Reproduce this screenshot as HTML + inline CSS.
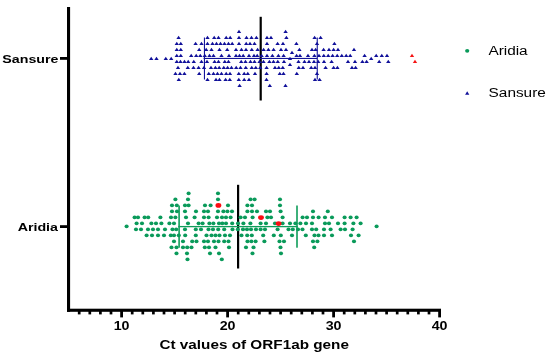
<!DOCTYPE html>
<html><head><meta charset="utf-8"><title>Ct values of ORF1ab gene</title>
<style>
html,body{margin:0;padding:0;background:#fff;}
body{width:550px;height:356px;overflow:hidden;}
svg{display:block;}
</style></head>
<body>
<svg width="550" height="356" viewBox="0 0 550 356">
<rect width="550" height="356" fill="#fff"/>
<g><rect x="259.6" y="16.8" width="2.2" height="83.7" fill="#000"/><rect x="237" y="184.8" width="2.2" height="83.7" fill="#000"/><rect x="203.6" y="57.9" width="113.6" height="1.1" fill="#14149a"/><rect x="203.9" y="37.5" width="1.1" height="42" fill="#14149a"/><rect x="316.7" y="37.5" width="1.1" height="42" fill="#14149a"/><rect x="178.3" y="225.95" width="119.4" height="1.3" fill="#0f9d5a"/><rect x="178.3" y="205.5" width="1.6" height="42.2" fill="#0f9d5a"/><rect x="296.2" y="205.5" width="1.6" height="42.2" fill="#0f9d5a"/></g>
<g><path d="M236.8 33.0H241.2L239.0 29.8Z" fill="#10109a"/><path d="M283.4 33.0H287.8L285.6 29.8Z" fill="#10109a"/><path d="M176.4 39.0H180.8L178.6 35.8Z" fill="#10109a"/><path d="M205.3 39.0H209.7L207.5 35.8Z" fill="#10109a"/><path d="M212.0 39.0H216.4L214.2 35.8Z" fill="#10109a"/><path d="M216.3 39.0H220.7L218.5 35.8Z" fill="#10109a"/><path d="M224.0 39.0H228.4L226.2 35.8Z" fill="#10109a"/><path d="M228.0 39.0H232.4L230.2 35.8Z" fill="#10109a"/><path d="M236.8 39.0H241.2L239.0 35.8Z" fill="#10109a"/><path d="M244.3 39.0H248.7L246.5 35.8Z" fill="#10109a"/><path d="M249.3 39.0H253.7L251.5 35.8Z" fill="#10109a"/><path d="M254.2 39.0H258.6L256.4 35.8Z" fill="#10109a"/><path d="M264.8 39.0H269.2L267.0 35.8Z" fill="#10109a"/><path d="M268.8 39.0H273.2L271.0 35.8Z" fill="#10109a"/><path d="M284.2 39.0H288.6L286.4 35.8Z" fill="#10109a"/><path d="M312.4 39.0H316.8L314.6 35.8Z" fill="#10109a"/><path d="M318.4 39.0H322.8L320.6 35.8Z" fill="#10109a"/><path d="M174.6 45.0H179.0L176.8 41.8Z" fill="#10109a"/><path d="M178.6 45.0H183.0L180.8 41.8Z" fill="#10109a"/><path d="M193.4 45.0H197.8L195.6 41.8Z" fill="#10109a"/><path d="M199.3 45.0H203.7L201.5 41.8Z" fill="#10109a"/><path d="M205.3 45.0H209.7L207.5 41.8Z" fill="#10109a"/><path d="M210.3 45.0H214.7L212.5 41.8Z" fill="#10109a"/><path d="M214.3 45.0H218.7L216.5 41.8Z" fill="#10109a"/><path d="M218.3 45.0H222.7L220.5 41.8Z" fill="#10109a"/><path d="M222.3 45.0H226.7L224.5 41.8Z" fill="#10109a"/><path d="M226.3 45.0H230.7L228.5 41.8Z" fill="#10109a"/><path d="M230.0 45.0H234.4L232.2 41.8Z" fill="#10109a"/><path d="M236.8 45.0H241.2L239.0 41.8Z" fill="#10109a"/><path d="M244.0 45.0H248.4L246.2 41.8Z" fill="#10109a"/><path d="M247.8 45.0H252.2L250.0 41.8Z" fill="#10109a"/><path d="M252.3 45.0H256.7L254.5 41.8Z" fill="#10109a"/><path d="M264.8 45.0H269.2L267.0 41.8Z" fill="#10109a"/><path d="M275.4 45.0H279.8L277.6 41.8Z" fill="#10109a"/><path d="M280.8 45.0H285.2L283.0 41.8Z" fill="#10109a"/><path d="M294.2 45.0H298.6L296.4 41.8Z" fill="#10109a"/><path d="M314.8 45.0H319.2L317.0 41.8Z" fill="#10109a"/><path d="M332.2 45.0H336.6L334.4 41.8Z" fill="#10109a"/><path d="M174.6 51.0H179.0L176.8 47.8Z" fill="#10109a"/><path d="M178.6 51.0H183.0L180.8 47.8Z" fill="#10109a"/><path d="M197.0 51.0H201.4L199.2 47.8Z" fill="#10109a"/><path d="M204.0 51.0H208.4L206.2 47.8Z" fill="#10109a"/><path d="M209.3 51.0H213.7L211.5 47.8Z" fill="#10109a"/><path d="M217.3 51.0H221.7L219.5 47.8Z" fill="#10109a"/><path d="M225.0 51.0H229.4L227.2 47.8Z" fill="#10109a"/><path d="M233.8 51.0H238.2L236.0 47.8Z" fill="#10109a"/><path d="M239.3 51.0H243.7L241.5 47.8Z" fill="#10109a"/><path d="M243.8 51.0H248.2L246.0 47.8Z" fill="#10109a"/><path d="M249.6 51.0H254.0L251.8 47.8Z" fill="#10109a"/><path d="M255.4 51.0H259.8L257.6 47.8Z" fill="#10109a"/><path d="M261.4 51.0H265.8L263.6 47.8Z" fill="#10109a"/><path d="M266.2 51.0H270.6L268.4 47.8Z" fill="#10109a"/><path d="M271.4 51.0H275.8L273.6 47.8Z" fill="#10109a"/><path d="M278.8 51.0H283.2L281.0 47.8Z" fill="#10109a"/><path d="M283.8 51.0H288.2L286.0 47.8Z" fill="#10109a"/><path d="M297.2 51.0H301.6L299.4 47.8Z" fill="#10109a"/><path d="M309.8 51.0H314.2L312.0 47.8Z" fill="#10109a"/><path d="M313.4 51.0H317.8L315.6 47.8Z" fill="#10109a"/><path d="M321.4 51.0H325.8L323.6 47.8Z" fill="#10109a"/><path d="M326.8 51.0H331.2L329.0 47.8Z" fill="#10109a"/><path d="M331.4 51.0H335.8L333.6 47.8Z" fill="#10109a"/><path d="M335.8 51.0H340.2L338.0 47.8Z" fill="#10109a"/><path d="M351.8 51.0H356.2L354.0 47.8Z" fill="#10109a"/><path d="M289.8 54.0H294.2L292.0 50.8Z" fill="#10109a"/><path d="M174.6 57.0H179.0L176.8 53.8Z" fill="#10109a"/><path d="M178.6 57.0H183.0L180.8 53.8Z" fill="#10109a"/><path d="M189.0 57.0H193.4L191.2 53.8Z" fill="#10109a"/><path d="M194.0 57.0H198.4L196.2 53.8Z" fill="#10109a"/><path d="M198.1 57.0H202.5L200.3 53.8Z" fill="#10109a"/><path d="M202.6 57.0H207.0L204.8 53.8Z" fill="#10109a"/><path d="M207.3 57.0H211.7L209.5 53.8Z" fill="#10109a"/><path d="M211.3 57.0H215.7L213.5 53.8Z" fill="#10109a"/><path d="M219.3 57.0H223.7L221.5 53.8Z" fill="#10109a"/><path d="M226.8 57.0H231.2L229.0 53.8Z" fill="#10109a"/><path d="M233.8 57.0H238.2L236.0 53.8Z" fill="#10109a"/><path d="M237.3 57.0H241.7L239.5 53.8Z" fill="#10109a"/><path d="M241.0 57.0H245.4L243.2 53.8Z" fill="#10109a"/><path d="M246.8 57.0H251.2L249.0 53.8Z" fill="#10109a"/><path d="M251.8 57.0H256.2L254.0 53.8Z" fill="#10109a"/><path d="M255.0 57.0H259.4L257.2 53.8Z" fill="#10109a"/><path d="M259.4 57.0H263.8L261.6 53.8Z" fill="#10109a"/><path d="M264.8 57.0H269.2L267.0 53.8Z" fill="#10109a"/><path d="M270.2 57.0H274.6L272.4 53.8Z" fill="#10109a"/><path d="M276.2 57.0H280.6L278.4 53.8Z" fill="#10109a"/><path d="M281.4 57.0H285.8L283.6 53.8Z" fill="#10109a"/><path d="M294.4 57.0H298.8L296.6 53.8Z" fill="#10109a"/><path d="M297.8 57.0H302.2L300.0 53.8Z" fill="#10109a"/><path d="M305.8 57.0H310.2L308.0 53.8Z" fill="#10109a"/><path d="M312.2 57.0H316.6L314.4 53.8Z" fill="#10109a"/><path d="M316.8 57.0H321.2L319.0 53.8Z" fill="#10109a"/><path d="M321.6 57.0H326.0L323.8 53.8Z" fill="#10109a"/><path d="M326.0 57.0H330.4L328.2 53.8Z" fill="#10109a"/><path d="M330.4 57.0H334.8L332.6 53.8Z" fill="#10109a"/><path d="M335.0 57.0H339.4L337.2 53.8Z" fill="#10109a"/><path d="M339.6 57.0H344.0L341.8 53.8Z" fill="#10109a"/><path d="M344.0 57.0H348.4L346.2 53.8Z" fill="#10109a"/><path d="M348.0 57.0H352.4L350.2 53.8Z" fill="#10109a"/><path d="M362.4 57.0H366.8L364.6 53.8Z" fill="#10109a"/><path d="M374.0 57.0H378.4L376.2 53.8Z" fill="#10109a"/><path d="M379.6 57.0H384.0L381.8 53.8Z" fill="#10109a"/><path d="M384.8 57.0H389.2L387.0 53.8Z" fill="#10109a"/><path d="M149.0 60.0H153.4L151.2 56.8Z" fill="#10109a"/><path d="M154.3 60.0H158.7L156.5 56.8Z" fill="#10109a"/><path d="M163.6 60.0H168.0L165.8 56.8Z" fill="#10109a"/><path d="M169.0 60.0H173.4L171.2 56.8Z" fill="#10109a"/><path d="M287.8 60.0H292.2L290.0 56.8Z" fill="#10109a"/><path d="M369.0 60.0H373.4L371.2 56.8Z" fill="#10109a"/><path d="M174.6 63.0H179.0L176.8 59.8Z" fill="#10109a"/><path d="M178.3 63.0H182.7L180.5 59.8Z" fill="#10109a"/><path d="M182.3 63.0H186.7L184.5 59.8Z" fill="#10109a"/><path d="M186.0 63.0H190.4L188.2 59.8Z" fill="#10109a"/><path d="M191.6 63.0H196.0L193.8 59.8Z" fill="#10109a"/><path d="M199.3 63.0H203.7L201.5 59.8Z" fill="#10109a"/><path d="M204.8 63.0H209.2L207.0 59.8Z" fill="#10109a"/><path d="M212.4 63.0H216.8L214.6 59.8Z" fill="#10109a"/><path d="M216.3 63.0H220.7L218.5 59.8Z" fill="#10109a"/><path d="M222.6 63.0H227.0L224.8 59.8Z" fill="#10109a"/><path d="M226.3 63.0H230.7L228.5 59.8Z" fill="#10109a"/><path d="M239.0 63.0H243.4L241.2 59.8Z" fill="#10109a"/><path d="M243.3 63.0H247.7L245.5 59.8Z" fill="#10109a"/><path d="M248.3 63.0H252.7L250.5 59.8Z" fill="#10109a"/><path d="M252.3 63.0H256.7L254.5 59.8Z" fill="#10109a"/><path d="M257.3 63.0H261.7L259.5 59.8Z" fill="#10109a"/><path d="M261.3 63.0H265.7L263.5 59.8Z" fill="#10109a"/><path d="M267.2 63.0H271.6L269.4 59.8Z" fill="#10109a"/><path d="M271.3 63.0H275.7L273.5 59.8Z" fill="#10109a"/><path d="M275.6 63.0H280.0L277.8 59.8Z" fill="#10109a"/><path d="M281.8 63.0H286.2L284.0 59.8Z" fill="#10109a"/><path d="M296.3 63.0H300.7L298.5 59.8Z" fill="#10109a"/><path d="M302.3 63.0H306.7L304.5 59.8Z" fill="#10109a"/><path d="M306.8 63.0H311.2L309.0 59.8Z" fill="#10109a"/><path d="M311.8 63.0H316.2L314.0 59.8Z" fill="#10109a"/><path d="M316.0 63.0H320.4L318.2 59.8Z" fill="#10109a"/><path d="M321.8 63.0H326.2L324.0 59.8Z" fill="#10109a"/><path d="M329.4 63.0H333.8L331.6 59.8Z" fill="#10109a"/><path d="M345.8 63.0H350.2L348.0 59.8Z" fill="#10109a"/><path d="M352.8 63.0H357.2L355.0 59.8Z" fill="#10109a"/><path d="M360.2 63.0H364.6L362.4 59.8Z" fill="#10109a"/><path d="M364.4 63.0H368.8L366.6 59.8Z" fill="#10109a"/><path d="M377.0 63.0H381.4L379.2 59.8Z" fill="#10109a"/><path d="M386.1 63.0H390.5L388.3 59.8Z" fill="#10109a"/><path d="M287.8 66.1H292.2L290.0 62.8Z" fill="#10109a"/><path d="M175.8 69.1H180.2L178.0 65.8Z" fill="#10109a"/><path d="M185.6 69.1H190.0L187.8 65.8Z" fill="#10109a"/><path d="M191.3 69.1H195.7L193.5 65.8Z" fill="#10109a"/><path d="M196.4 69.1H200.8L198.6 65.8Z" fill="#10109a"/><path d="M201.8 69.1H206.2L204.0 65.8Z" fill="#10109a"/><path d="M208.8 69.1H213.2L211.0 65.8Z" fill="#10109a"/><path d="M213.2 69.1H217.6L215.4 65.8Z" fill="#10109a"/><path d="M217.0 69.1H221.4L219.2 65.8Z" fill="#10109a"/><path d="M221.6 69.1H226.0L223.8 65.8Z" fill="#10109a"/><path d="M225.4 69.1H229.8L227.6 65.8Z" fill="#10109a"/><path d="M229.3 69.1H233.7L231.5 65.8Z" fill="#10109a"/><path d="M234.0 69.1H238.4L236.2 65.8Z" fill="#10109a"/><path d="M238.3 69.1H242.7L240.5 65.8Z" fill="#10109a"/><path d="M243.6 69.1H248.0L245.8 65.8Z" fill="#10109a"/><path d="M249.6 69.1H254.0L251.8 65.8Z" fill="#10109a"/><path d="M253.6 69.1H258.0L255.8 65.8Z" fill="#10109a"/><path d="M258.0 69.1H262.4L260.2 65.8Z" fill="#10109a"/><path d="M264.4 69.1H268.8L266.6 65.8Z" fill="#10109a"/><path d="M272.8 69.1H277.2L275.0 65.8Z" fill="#10109a"/><path d="M276.6 69.1H281.0L278.8 65.8Z" fill="#10109a"/><path d="M280.6 69.1H285.0L282.8 65.8Z" fill="#10109a"/><path d="M296.6 69.1H301.0L298.8 65.8Z" fill="#10109a"/><path d="M300.8 69.1H305.2L303.0 65.8Z" fill="#10109a"/><path d="M309.0 69.1H313.4L311.2 65.8Z" fill="#10109a"/><path d="M312.8 69.1H317.2L315.0 65.8Z" fill="#10109a"/><path d="M323.4 69.1H327.8L325.6 65.8Z" fill="#10109a"/><path d="M331.4 69.1H335.8L333.6 65.8Z" fill="#10109a"/><path d="M335.2 69.1H339.6L337.4 65.8Z" fill="#10109a"/><path d="M349.8 69.1H354.2L352.0 65.8Z" fill="#10109a"/><path d="M353.4 69.1H357.8L355.6 65.8Z" fill="#10109a"/><path d="M173.3 75.1H177.7L175.5 71.8Z" fill="#10109a"/><path d="M177.8 75.1H182.2L180.0 71.8Z" fill="#10109a"/><path d="M182.2 75.1H186.6L184.4 71.8Z" fill="#10109a"/><path d="M197.0 75.1H201.4L199.2 71.8Z" fill="#10109a"/><path d="M206.6 75.1H211.0L208.8 71.8Z" fill="#10109a"/><path d="M211.3 75.1H215.7L213.5 71.8Z" fill="#10109a"/><path d="M215.3 75.1H219.7L217.5 71.8Z" fill="#10109a"/><path d="M219.3 75.1H223.7L221.5 71.8Z" fill="#10109a"/><path d="M224.0 75.1H228.4L226.2 71.8Z" fill="#10109a"/><path d="M227.8 75.1H232.2L230.0 71.8Z" fill="#10109a"/><path d="M236.6 75.1H241.0L238.8 71.8Z" fill="#10109a"/><path d="M242.0 75.1H246.4L244.2 71.8Z" fill="#10109a"/><path d="M245.6 75.1H250.0L247.8 71.8Z" fill="#10109a"/><path d="M252.8 75.1H257.2L255.0 71.8Z" fill="#10109a"/><path d="M264.4 75.1H268.8L266.6 71.8Z" fill="#10109a"/><path d="M277.6 75.1H282.0L279.8 71.8Z" fill="#10109a"/><path d="M281.3 75.1H285.7L283.5 71.8Z" fill="#10109a"/><path d="M294.6 75.1H299.0L296.8 71.8Z" fill="#10109a"/><path d="M314.8 75.1H319.2L317.0 71.8Z" fill="#10109a"/><path d="M176.6 81.1H181.0L178.8 77.8Z" fill="#10109a"/><path d="M205.3 81.1H209.7L207.5 77.8Z" fill="#10109a"/><path d="M213.8 81.1H218.2L216.0 77.8Z" fill="#10109a"/><path d="M217.3 81.1H221.7L219.5 77.8Z" fill="#10109a"/><path d="M223.4 81.1H227.8L225.6 77.8Z" fill="#10109a"/><path d="M227.6 81.1H232.0L229.8 77.8Z" fill="#10109a"/><path d="M236.6 81.1H241.0L238.8 77.8Z" fill="#10109a"/><path d="M242.0 81.1H246.4L244.2 77.8Z" fill="#10109a"/><path d="M246.8 81.1H251.2L249.0 77.8Z" fill="#10109a"/><path d="M264.3 81.1H268.7L266.5 77.8Z" fill="#10109a"/><path d="M312.8 81.1H317.2L315.0 77.8Z" fill="#10109a"/><path d="M317.4 81.1H321.8L319.6 77.8Z" fill="#10109a"/><path d="M237.4 87.1H241.8L239.6 83.8Z" fill="#10109a"/><path d="M267.6 87.1H272.0L269.8 83.8Z" fill="#10109a"/><path d="M283.3 87.1H287.7L285.5 83.8Z" fill="#10109a"/></g><g><path d="M409.8 57.0H414.2L412.0 53.8Z" fill="#f51414"/><path d="M412.8 63.0H417.2L415.0 59.8Z" fill="#f51414"/></g><g><ellipse cx="188.6" cy="193.4" rx="2.08" ry="1.78" fill="#0a9a5a"/><ellipse cx="218.0" cy="193.4" rx="2.08" ry="1.78" fill="#0a9a5a"/><ellipse cx="175.4" cy="199.4" rx="2.08" ry="1.78" fill="#0a9a5a"/><ellipse cx="188.0" cy="199.4" rx="2.08" ry="1.78" fill="#0a9a5a"/><ellipse cx="218.0" cy="199.4" rx="2.08" ry="1.78" fill="#0a9a5a"/><ellipse cx="250.6" cy="199.4" rx="2.08" ry="1.78" fill="#0a9a5a"/><ellipse cx="254.6" cy="199.4" rx="2.08" ry="1.78" fill="#0a9a5a"/><ellipse cx="280.0" cy="199.4" rx="2.08" ry="1.78" fill="#0a9a5a"/><ellipse cx="172.0" cy="205.4" rx="2.08" ry="1.78" fill="#0a9a5a"/><ellipse cx="176.8" cy="205.4" rx="2.08" ry="1.78" fill="#0a9a5a"/><ellipse cx="185.0" cy="205.4" rx="2.08" ry="1.78" fill="#0a9a5a"/><ellipse cx="188.6" cy="205.4" rx="2.08" ry="1.78" fill="#0a9a5a"/><ellipse cx="205.0" cy="205.4" rx="2.08" ry="1.78" fill="#0a9a5a"/><ellipse cx="210.6" cy="205.4" rx="2.08" ry="1.78" fill="#0a9a5a"/><ellipse cx="228.0" cy="205.4" rx="2.08" ry="1.78" fill="#0a9a5a"/><ellipse cx="247.4" cy="205.4" rx="2.08" ry="1.78" fill="#0a9a5a"/><ellipse cx="252.0" cy="205.4" rx="2.08" ry="1.78" fill="#0a9a5a"/><ellipse cx="280.0" cy="205.4" rx="2.08" ry="1.78" fill="#0a9a5a"/><ellipse cx="172.0" cy="211.4" rx="2.08" ry="1.78" fill="#0a9a5a"/><ellipse cx="177.0" cy="211.4" rx="2.08" ry="1.78" fill="#0a9a5a"/><ellipse cx="185.0" cy="211.4" rx="2.08" ry="1.78" fill="#0a9a5a"/><ellipse cx="196.0" cy="211.4" rx="2.08" ry="1.78" fill="#0a9a5a"/><ellipse cx="204.0" cy="211.4" rx="2.08" ry="1.78" fill="#0a9a5a"/><ellipse cx="208.0" cy="211.4" rx="2.08" ry="1.78" fill="#0a9a5a"/><ellipse cx="218.0" cy="211.4" rx="2.08" ry="1.78" fill="#0a9a5a"/><ellipse cx="223.4" cy="211.4" rx="2.08" ry="1.78" fill="#0a9a5a"/><ellipse cx="227.4" cy="211.4" rx="2.08" ry="1.78" fill="#0a9a5a"/><ellipse cx="232.0" cy="211.4" rx="2.08" ry="1.78" fill="#0a9a5a"/><ellipse cx="247.4" cy="211.4" rx="2.08" ry="1.78" fill="#0a9a5a"/><ellipse cx="252.0" cy="211.4" rx="2.08" ry="1.78" fill="#0a9a5a"/><ellipse cx="257.0" cy="211.4" rx="2.08" ry="1.78" fill="#0a9a5a"/><ellipse cx="266.0" cy="211.4" rx="2.08" ry="1.78" fill="#0a9a5a"/><ellipse cx="270.0" cy="211.4" rx="2.08" ry="1.78" fill="#0a9a5a"/><ellipse cx="280.6" cy="211.4" rx="2.08" ry="1.78" fill="#0a9a5a"/><ellipse cx="313.0" cy="211.4" rx="2.08" ry="1.78" fill="#0a9a5a"/><ellipse cx="327.8" cy="211.4" rx="2.08" ry="1.78" fill="#0a9a5a"/><ellipse cx="134.6" cy="217.4" rx="2.08" ry="1.78" fill="#0a9a5a"/><ellipse cx="138.0" cy="217.4" rx="2.08" ry="1.78" fill="#0a9a5a"/><ellipse cx="144.6" cy="217.4" rx="2.08" ry="1.78" fill="#0a9a5a"/><ellipse cx="148.2" cy="217.4" rx="2.08" ry="1.78" fill="#0a9a5a"/><ellipse cx="160.4" cy="217.4" rx="2.08" ry="1.78" fill="#0a9a5a"/><ellipse cx="171.0" cy="217.4" rx="2.08" ry="1.78" fill="#0a9a5a"/><ellipse cx="175.4" cy="217.4" rx="2.08" ry="1.78" fill="#0a9a5a"/><ellipse cx="186.0" cy="217.4" rx="2.08" ry="1.78" fill="#0a9a5a"/><ellipse cx="194.6" cy="217.4" rx="2.08" ry="1.78" fill="#0a9a5a"/><ellipse cx="204.0" cy="217.4" rx="2.08" ry="1.78" fill="#0a9a5a"/><ellipse cx="208.6" cy="217.4" rx="2.08" ry="1.78" fill="#0a9a5a"/><ellipse cx="217.0" cy="217.4" rx="2.08" ry="1.78" fill="#0a9a5a"/><ellipse cx="222.0" cy="217.4" rx="2.08" ry="1.78" fill="#0a9a5a"/><ellipse cx="226.0" cy="217.4" rx="2.08" ry="1.78" fill="#0a9a5a"/><ellipse cx="230.6" cy="217.4" rx="2.08" ry="1.78" fill="#0a9a5a"/><ellipse cx="240.6" cy="217.4" rx="2.08" ry="1.78" fill="#0a9a5a"/><ellipse cx="245.0" cy="217.4" rx="2.08" ry="1.78" fill="#0a9a5a"/><ellipse cx="252.6" cy="217.4" rx="2.08" ry="1.78" fill="#0a9a5a"/><ellipse cx="267.4" cy="217.4" rx="2.08" ry="1.78" fill="#0a9a5a"/><ellipse cx="271.0" cy="217.4" rx="2.08" ry="1.78" fill="#0a9a5a"/><ellipse cx="282.6" cy="217.4" rx="2.08" ry="1.78" fill="#0a9a5a"/><ellipse cx="302.6" cy="217.4" rx="2.08" ry="1.78" fill="#0a9a5a"/><ellipse cx="307.0" cy="217.4" rx="2.08" ry="1.78" fill="#0a9a5a"/><ellipse cx="313.0" cy="217.4" rx="2.08" ry="1.78" fill="#0a9a5a"/><ellipse cx="318.6" cy="217.4" rx="2.08" ry="1.78" fill="#0a9a5a"/><ellipse cx="325.0" cy="217.4" rx="2.08" ry="1.78" fill="#0a9a5a"/><ellipse cx="332.0" cy="217.4" rx="2.08" ry="1.78" fill="#0a9a5a"/><ellipse cx="344.6" cy="217.4" rx="2.08" ry="1.78" fill="#0a9a5a"/><ellipse cx="350.6" cy="217.4" rx="2.08" ry="1.78" fill="#0a9a5a"/><ellipse cx="356.6" cy="217.4" rx="2.08" ry="1.78" fill="#0a9a5a"/><ellipse cx="136.6" cy="223.4" rx="2.08" ry="1.78" fill="#0a9a5a"/><ellipse cx="142.0" cy="223.4" rx="2.08" ry="1.78" fill="#0a9a5a"/><ellipse cx="151.4" cy="223.4" rx="2.08" ry="1.78" fill="#0a9a5a"/><ellipse cx="156.0" cy="223.4" rx="2.08" ry="1.78" fill="#0a9a5a"/><ellipse cx="161.4" cy="223.4" rx="2.08" ry="1.78" fill="#0a9a5a"/><ellipse cx="169.4" cy="223.4" rx="2.08" ry="1.78" fill="#0a9a5a"/><ellipse cx="174.0" cy="223.4" rx="2.08" ry="1.78" fill="#0a9a5a"/><ellipse cx="188.0" cy="223.4" rx="2.08" ry="1.78" fill="#0a9a5a"/><ellipse cx="198.6" cy="223.4" rx="2.08" ry="1.78" fill="#0a9a5a"/><ellipse cx="202.6" cy="223.4" rx="2.08" ry="1.78" fill="#0a9a5a"/><ellipse cx="209.4" cy="223.4" rx="2.08" ry="1.78" fill="#0a9a5a"/><ellipse cx="213.4" cy="223.4" rx="2.08" ry="1.78" fill="#0a9a5a"/><ellipse cx="219.0" cy="223.4" rx="2.08" ry="1.78" fill="#0a9a5a"/><ellipse cx="222.3" cy="223.4" rx="2.08" ry="1.78" fill="#0a9a5a"/><ellipse cx="226.0" cy="223.4" rx="2.08" ry="1.78" fill="#0a9a5a"/><ellipse cx="232.2" cy="223.4" rx="2.08" ry="1.78" fill="#0a9a5a"/><ellipse cx="238.0" cy="223.4" rx="2.08" ry="1.78" fill="#0a9a5a"/><ellipse cx="243.4" cy="223.4" rx="2.08" ry="1.78" fill="#0a9a5a"/><ellipse cx="250.4" cy="223.4" rx="2.08" ry="1.78" fill="#0a9a5a"/><ellipse cx="260.6" cy="223.4" rx="2.08" ry="1.78" fill="#0a9a5a"/><ellipse cx="266.0" cy="223.4" rx="2.08" ry="1.78" fill="#0a9a5a"/><ellipse cx="275.0" cy="223.4" rx="2.08" ry="1.78" fill="#0a9a5a"/><ellipse cx="282.6" cy="223.4" rx="2.08" ry="1.78" fill="#0a9a5a"/><ellipse cx="290.0" cy="223.4" rx="2.08" ry="1.78" fill="#0a9a5a"/><ellipse cx="295.4" cy="223.4" rx="2.08" ry="1.78" fill="#0a9a5a"/><ellipse cx="300.4" cy="223.4" rx="2.08" ry="1.78" fill="#0a9a5a"/><ellipse cx="306.0" cy="223.4" rx="2.08" ry="1.78" fill="#0a9a5a"/><ellipse cx="312.0" cy="223.4" rx="2.08" ry="1.78" fill="#0a9a5a"/><ellipse cx="325.0" cy="223.4" rx="2.08" ry="1.78" fill="#0a9a5a"/><ellipse cx="329.0" cy="223.4" rx="2.08" ry="1.78" fill="#0a9a5a"/><ellipse cx="338.0" cy="223.4" rx="2.08" ry="1.78" fill="#0a9a5a"/><ellipse cx="344.6" cy="223.4" rx="2.08" ry="1.78" fill="#0a9a5a"/><ellipse cx="353.4" cy="223.4" rx="2.08" ry="1.78" fill="#0a9a5a"/><ellipse cx="360.6" cy="223.4" rx="2.08" ry="1.78" fill="#0a9a5a"/><ellipse cx="126.6" cy="226.4" rx="2.08" ry="1.78" fill="#0a9a5a"/><ellipse cx="376.6" cy="226.4" rx="2.08" ry="1.78" fill="#0a9a5a"/><ellipse cx="136.0" cy="229.4" rx="2.08" ry="1.78" fill="#0a9a5a"/><ellipse cx="141.0" cy="229.4" rx="2.08" ry="1.78" fill="#0a9a5a"/><ellipse cx="148.0" cy="229.4" rx="2.08" ry="1.78" fill="#0a9a5a"/><ellipse cx="153.0" cy="229.4" rx="2.08" ry="1.78" fill="#0a9a5a"/><ellipse cx="158.0" cy="229.4" rx="2.08" ry="1.78" fill="#0a9a5a"/><ellipse cx="165.0" cy="229.4" rx="2.08" ry="1.78" fill="#0a9a5a"/><ellipse cx="172.5" cy="229.4" rx="2.08" ry="1.78" fill="#0a9a5a"/><ellipse cx="176.2" cy="229.4" rx="2.08" ry="1.78" fill="#0a9a5a"/><ellipse cx="185.0" cy="229.4" rx="2.08" ry="1.78" fill="#0a9a5a"/><ellipse cx="195.8" cy="229.4" rx="2.08" ry="1.78" fill="#0a9a5a"/><ellipse cx="201.0" cy="229.4" rx="2.08" ry="1.78" fill="#0a9a5a"/><ellipse cx="208.5" cy="229.4" rx="2.08" ry="1.78" fill="#0a9a5a"/><ellipse cx="213.0" cy="229.4" rx="2.08" ry="1.78" fill="#0a9a5a"/><ellipse cx="218.2" cy="229.4" rx="2.08" ry="1.78" fill="#0a9a5a"/><ellipse cx="224.2" cy="229.4" rx="2.08" ry="1.78" fill="#0a9a5a"/><ellipse cx="232.5" cy="229.4" rx="2.08" ry="1.78" fill="#0a9a5a"/><ellipse cx="237.8" cy="229.4" rx="2.08" ry="1.78" fill="#0a9a5a"/><ellipse cx="243.0" cy="229.4" rx="2.08" ry="1.78" fill="#0a9a5a"/><ellipse cx="247.0" cy="229.4" rx="2.08" ry="1.78" fill="#0a9a5a"/><ellipse cx="251.0" cy="229.4" rx="2.08" ry="1.78" fill="#0a9a5a"/><ellipse cx="256.0" cy="229.4" rx="2.08" ry="1.78" fill="#0a9a5a"/><ellipse cx="260.6" cy="229.4" rx="2.08" ry="1.78" fill="#0a9a5a"/><ellipse cx="265.0" cy="229.4" rx="2.08" ry="1.78" fill="#0a9a5a"/><ellipse cx="277.6" cy="229.4" rx="2.08" ry="1.78" fill="#0a9a5a"/><ellipse cx="288.5" cy="229.4" rx="2.08" ry="1.78" fill="#0a9a5a"/><ellipse cx="292.8" cy="229.4" rx="2.08" ry="1.78" fill="#0a9a5a"/><ellipse cx="298.0" cy="229.4" rx="2.08" ry="1.78" fill="#0a9a5a"/><ellipse cx="302.5" cy="229.4" rx="2.08" ry="1.78" fill="#0a9a5a"/><ellipse cx="312.0" cy="229.4" rx="2.08" ry="1.78" fill="#0a9a5a"/><ellipse cx="316.2" cy="229.4" rx="2.08" ry="1.78" fill="#0a9a5a"/><ellipse cx="324.0" cy="229.4" rx="2.08" ry="1.78" fill="#0a9a5a"/><ellipse cx="330.6" cy="229.4" rx="2.08" ry="1.78" fill="#0a9a5a"/><ellipse cx="340.6" cy="229.4" rx="2.08" ry="1.78" fill="#0a9a5a"/><ellipse cx="345.0" cy="229.4" rx="2.08" ry="1.78" fill="#0a9a5a"/><ellipse cx="352.6" cy="229.4" rx="2.08" ry="1.78" fill="#0a9a5a"/><ellipse cx="146.6" cy="235.4" rx="2.08" ry="1.78" fill="#0a9a5a"/><ellipse cx="152.0" cy="235.4" rx="2.08" ry="1.78" fill="#0a9a5a"/><ellipse cx="158.0" cy="235.4" rx="2.08" ry="1.78" fill="#0a9a5a"/><ellipse cx="164.0" cy="235.4" rx="2.08" ry="1.78" fill="#0a9a5a"/><ellipse cx="170.8" cy="235.4" rx="2.08" ry="1.78" fill="#0a9a5a"/><ellipse cx="174.0" cy="235.4" rx="2.08" ry="1.78" fill="#0a9a5a"/><ellipse cx="178.8" cy="235.4" rx="2.08" ry="1.78" fill="#0a9a5a"/><ellipse cx="185.2" cy="235.4" rx="2.08" ry="1.78" fill="#0a9a5a"/><ellipse cx="195.8" cy="235.4" rx="2.08" ry="1.78" fill="#0a9a5a"/><ellipse cx="206.5" cy="235.4" rx="2.08" ry="1.78" fill="#0a9a5a"/><ellipse cx="211.5" cy="235.4" rx="2.08" ry="1.78" fill="#0a9a5a"/><ellipse cx="215.5" cy="235.4" rx="2.08" ry="1.78" fill="#0a9a5a"/><ellipse cx="219.5" cy="235.4" rx="2.08" ry="1.78" fill="#0a9a5a"/><ellipse cx="225.0" cy="235.4" rx="2.08" ry="1.78" fill="#0a9a5a"/><ellipse cx="230.0" cy="235.4" rx="2.08" ry="1.78" fill="#0a9a5a"/><ellipse cx="241.5" cy="235.4" rx="2.08" ry="1.78" fill="#0a9a5a"/><ellipse cx="247.2" cy="235.4" rx="2.08" ry="1.78" fill="#0a9a5a"/><ellipse cx="251.8" cy="235.4" rx="2.08" ry="1.78" fill="#0a9a5a"/><ellipse cx="263.2" cy="235.4" rx="2.08" ry="1.78" fill="#0a9a5a"/><ellipse cx="273.8" cy="235.4" rx="2.08" ry="1.78" fill="#0a9a5a"/><ellipse cx="280.8" cy="235.4" rx="2.08" ry="1.78" fill="#0a9a5a"/><ellipse cx="292.0" cy="235.4" rx="2.08" ry="1.78" fill="#0a9a5a"/><ellipse cx="305.8" cy="235.4" rx="2.08" ry="1.78" fill="#0a9a5a"/><ellipse cx="314.5" cy="235.4" rx="2.08" ry="1.78" fill="#0a9a5a"/><ellipse cx="318.5" cy="235.4" rx="2.08" ry="1.78" fill="#0a9a5a"/><ellipse cx="324.0" cy="235.4" rx="2.08" ry="1.78" fill="#0a9a5a"/><ellipse cx="332.0" cy="235.4" rx="2.08" ry="1.78" fill="#0a9a5a"/><ellipse cx="351.0" cy="235.4" rx="2.08" ry="1.78" fill="#0a9a5a"/><ellipse cx="358.6" cy="235.4" rx="2.08" ry="1.78" fill="#0a9a5a"/><ellipse cx="174.0" cy="241.4" rx="2.08" ry="1.78" fill="#0a9a5a"/><ellipse cx="183.0" cy="241.4" rx="2.08" ry="1.78" fill="#0a9a5a"/><ellipse cx="192.2" cy="241.4" rx="2.08" ry="1.78" fill="#0a9a5a"/><ellipse cx="196.5" cy="241.4" rx="2.08" ry="1.78" fill="#0a9a5a"/><ellipse cx="204.0" cy="241.4" rx="2.08" ry="1.78" fill="#0a9a5a"/><ellipse cx="208.0" cy="241.4" rx="2.08" ry="1.78" fill="#0a9a5a"/><ellipse cx="214.0" cy="241.4" rx="2.08" ry="1.78" fill="#0a9a5a"/><ellipse cx="218.5" cy="241.4" rx="2.08" ry="1.78" fill="#0a9a5a"/><ellipse cx="224.2" cy="241.4" rx="2.08" ry="1.78" fill="#0a9a5a"/><ellipse cx="228.5" cy="241.4" rx="2.08" ry="1.78" fill="#0a9a5a"/><ellipse cx="247.5" cy="241.4" rx="2.08" ry="1.78" fill="#0a9a5a"/><ellipse cx="251.4" cy="241.4" rx="2.08" ry="1.78" fill="#0a9a5a"/><ellipse cx="255.6" cy="241.4" rx="2.08" ry="1.78" fill="#0a9a5a"/><ellipse cx="264.4" cy="241.4" rx="2.08" ry="1.78" fill="#0a9a5a"/><ellipse cx="279.5" cy="241.4" rx="2.08" ry="1.78" fill="#0a9a5a"/><ellipse cx="284.0" cy="241.4" rx="2.08" ry="1.78" fill="#0a9a5a"/><ellipse cx="313.0" cy="241.4" rx="2.08" ry="1.78" fill="#0a9a5a"/><ellipse cx="317.4" cy="241.4" rx="2.08" ry="1.78" fill="#0a9a5a"/><ellipse cx="354.0" cy="241.4" rx="2.08" ry="1.78" fill="#0a9a5a"/><ellipse cx="171.5" cy="247.4" rx="2.08" ry="1.78" fill="#0a9a5a"/><ellipse cx="176.5" cy="247.4" rx="2.08" ry="1.78" fill="#0a9a5a"/><ellipse cx="183.0" cy="247.4" rx="2.08" ry="1.78" fill="#0a9a5a"/><ellipse cx="187.2" cy="247.4" rx="2.08" ry="1.78" fill="#0a9a5a"/><ellipse cx="191.5" cy="247.4" rx="2.08" ry="1.78" fill="#0a9a5a"/><ellipse cx="204.8" cy="247.4" rx="2.08" ry="1.78" fill="#0a9a5a"/><ellipse cx="209.0" cy="247.4" rx="2.08" ry="1.78" fill="#0a9a5a"/><ellipse cx="215.5" cy="247.4" rx="2.08" ry="1.78" fill="#0a9a5a"/><ellipse cx="229.0" cy="247.4" rx="2.08" ry="1.78" fill="#0a9a5a"/><ellipse cx="246.0" cy="247.4" rx="2.08" ry="1.78" fill="#0a9a5a"/><ellipse cx="253.5" cy="247.4" rx="2.08" ry="1.78" fill="#0a9a5a"/><ellipse cx="280.5" cy="247.4" rx="2.08" ry="1.78" fill="#0a9a5a"/><ellipse cx="314.2" cy="247.4" rx="2.08" ry="1.78" fill="#0a9a5a"/><ellipse cx="176.5" cy="253.4" rx="2.08" ry="1.78" fill="#0a9a5a"/><ellipse cx="187.0" cy="253.4" rx="2.08" ry="1.78" fill="#0a9a5a"/><ellipse cx="210.0" cy="253.4" rx="2.08" ry="1.78" fill="#0a9a5a"/><ellipse cx="219.0" cy="253.4" rx="2.08" ry="1.78" fill="#0a9a5a"/><ellipse cx="252.5" cy="253.4" rx="2.08" ry="1.78" fill="#0a9a5a"/><ellipse cx="281.0" cy="253.4" rx="2.08" ry="1.78" fill="#0a9a5a"/><ellipse cx="187.5" cy="259.4" rx="2.08" ry="1.78" fill="#0a9a5a"/><ellipse cx="221.8" cy="259.4" rx="2.08" ry="1.78" fill="#0a9a5a"/></g><g><ellipse cx="218.4" cy="205.4" rx="2.9" ry="2.35" fill="#fb0d12"/><ellipse cx="261.0" cy="217.6" rx="2.9" ry="2.35" fill="#fb0d12"/><ellipse cx="278.6" cy="223.6" rx="2.9" ry="2.35" fill="#fb0d12"/></g><g><rect x="67.0" y="7" width="3.1" height="304.8" fill="#000"/><rect x="67.0" y="308.7" width="374" height="3.1" fill="#000"/><rect x="77.85" y="311" width="2.7" height="3.4" fill="#000"/><rect x="88.45" y="311" width="2.7" height="3.4" fill="#000"/><rect x="99.05" y="311" width="2.7" height="3.4" fill="#000"/><rect x="109.65" y="311" width="2.7" height="3.4" fill="#000"/><rect x="120.2" y="311" width="2.8" height="6.4" fill="#000"/><rect x="130.85" y="311" width="2.7" height="3.4" fill="#000"/><rect x="141.45" y="311" width="2.7" height="3.4" fill="#000"/><rect x="152.05" y="311" width="2.7" height="3.4" fill="#000"/><rect x="162.65" y="311" width="2.7" height="3.4" fill="#000"/><rect x="173.25" y="311" width="2.7" height="3.4" fill="#000"/><rect x="183.85" y="311" width="2.7" height="3.4" fill="#000"/><rect x="194.45" y="311" width="2.7" height="3.4" fill="#000"/><rect x="205.05" y="311" width="2.7" height="3.4" fill="#000"/><rect x="215.65" y="311" width="2.7" height="3.4" fill="#000"/><rect x="226.2" y="311" width="2.8" height="6.4" fill="#000"/><rect x="236.85" y="311" width="2.7" height="3.4" fill="#000"/><rect x="247.45" y="311" width="2.7" height="3.4" fill="#000"/><rect x="258.05" y="311" width="2.7" height="3.4" fill="#000"/><rect x="268.65" y="311" width="2.7" height="3.4" fill="#000"/><rect x="279.25" y="311" width="2.7" height="3.4" fill="#000"/><rect x="289.85" y="311" width="2.7" height="3.4" fill="#000"/><rect x="300.45" y="311" width="2.7" height="3.4" fill="#000"/><rect x="311.05" y="311" width="2.7" height="3.4" fill="#000"/><rect x="321.65" y="311" width="2.7" height="3.4" fill="#000"/><rect x="332.2" y="311" width="2.8" height="6.4" fill="#000"/><rect x="342.85" y="311" width="2.7" height="3.4" fill="#000"/><rect x="353.45" y="311" width="2.7" height="3.4" fill="#000"/><rect x="364.05" y="311" width="2.7" height="3.4" fill="#000"/><rect x="374.65" y="311" width="2.7" height="3.4" fill="#000"/><rect x="385.25" y="311" width="2.7" height="3.4" fill="#000"/><rect x="395.85" y="311" width="2.7" height="3.4" fill="#000"/><rect x="406.45" y="311" width="2.7" height="3.4" fill="#000"/><rect x="417.05" y="311" width="2.7" height="3.4" fill="#000"/><rect x="427.65" y="311" width="2.7" height="3.4" fill="#000"/><rect x="438.2" y="311" width="2.8" height="6.4" fill="#000"/><rect x="60" y="57.0" width="8" height="2.8" fill="#000"/><rect x="60" y="225.2" width="8" height="2.8" fill="#000"/></g>
<ellipse cx="467.2" cy="50.8" rx="2.1" ry="1.9" fill="#0a9a5a"/><path d="M465.1 94.7H469.3L467.2 91.3Z" fill="#10109a"/>
<g font-family="'Liberation Sans', Arial, sans-serif" fill="#000"><text transform="translate(58.5 62.6) scale(1.25 1)" font-size="11.4" font-weight="bold" text-anchor="end">Sansure</text><text transform="translate(58 231.0) scale(1.25 1)" font-size="11.4" font-weight="bold" text-anchor="end">Aridia</text><text transform="translate(121.6 330) scale(1.19 1)" font-size="12.0" font-weight="bold" text-anchor="middle">10</text><text transform="translate(227.6 330) scale(1.19 1)" font-size="12.0" font-weight="bold" text-anchor="middle">20</text><text transform="translate(333.6 330) scale(1.19 1)" font-size="12.0" font-weight="bold" text-anchor="middle">30</text><text transform="translate(439.6 330) scale(1.19 1)" font-size="12.0" font-weight="bold" text-anchor="middle">40</text><text transform="translate(254.2 349.2) scale(1.265 1)" font-size="12.1" font-weight="bold" text-anchor="middle">Ct values of ORF1ab gene</text><text transform="translate(488.4 55.2) scale(1.25 1)" font-size="12.3" font-weight="normal" text-anchor="start">Aridia</text><text transform="translate(488.6 97.4) scale(1.25 1)" font-size="12.3" font-weight="normal" text-anchor="start">Sansure</text></g>
</svg>
</body></html>
